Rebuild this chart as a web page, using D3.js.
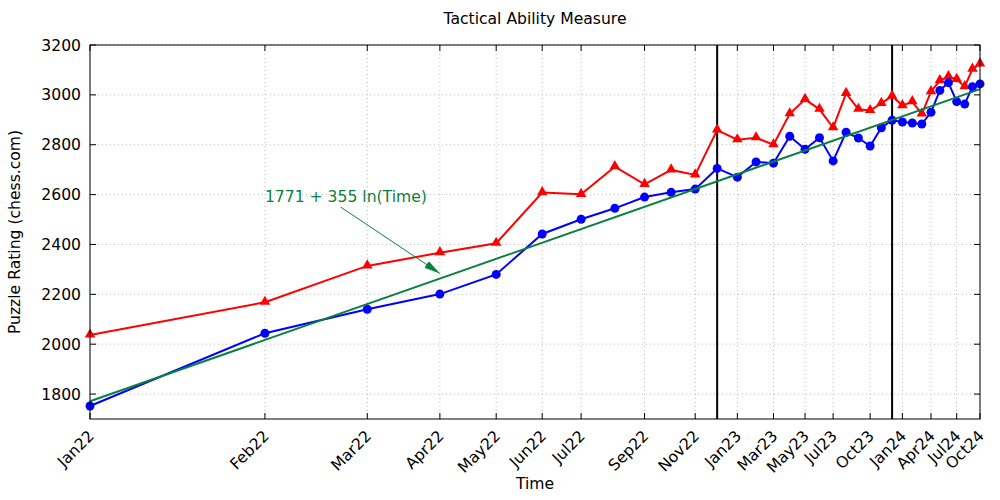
<!DOCTYPE html>
<html>
<head>
<meta charset="utf-8">
<script src="https://cdn.jsdelivr.net/npm/d3@7"></script>
<style>
  body { margin: 0; background: #fff; }
  text { font-family: "DejaVu Sans", sans-serif; }
</style>
</head>
<body>
<div id="chart"></div>
<script>
// months since Dec21 (Jan22 = 1)
var months = [1,2,3,4,5,6,7,8,9,10,11,12,13,14,15,16,17,18,19,20,21,22,23,24,25,26,27,28,29,30,31,32,33,34];
var blue = [1752,2044,2140,2201,2280,2442,2501,2545,2590,2609,2622,2705,2670,2731,2726,2834,2782,2828,2735,2850,2827,2795,2868,2898,2891,2887,2883,2930,3018,3049,2973,2963,3033,3044];
var red = [2037,2168,2314,2367,2405,2608,2601,2712,2641,2699,2679,2859,2820,2828,2800,2924,2982,2942,2868,3006,2942,2937,2966,2995,2957,2973,2923,3013,3057,3073,3062,3033,3103,3124];

var tickMonths = [1,2,3,4,5,6,7,9,11,13,15,17,19,22,25,28,31,34];
var tickLabels = ["Jan22","Feb22","Mar22","Apr22","May22","Jun22","Jul22","Sep22","Nov22","Jan23","Mar23","May23","Jul23","Oct23","Jan24","Apr24","Jul24","Oct24"];
var yTicks = [1800,2000,2200,2400,2600,2800,3000,3200];

var vLines = [12, 24];
var fitA = 1771, fitB = 355;
var fitRange = [1, 34];
var note = {text: "1771 + 355 ln(Time)", t: 2, v: 2594, arrowFrom: [2.7, 2550], arrowTo: [4, 2284]};

var width = 1000, height = 500;
var margin = {top: 45, right: 20, bottom: 81, left: 90};
var fs = "15.6px";
var green = "#0a8040";

var svg = d3.select("#chart").append("svg")
    .attr("width", width)
    .attr("height", height);

var x = d3.scaleLog().domain([1, 34]).range([margin.left, width - margin.right]);
var y = d3.scaleLinear().domain([1700, 3200]).range([height - margin.bottom, margin.top]);

var x0 = margin.left, x1 = width - margin.right, y0 = height - margin.bottom, y1 = margin.top;

// grid
svg.append("g").selectAll("line").data(tickMonths).enter().append("line")
    .attr("x1", d => x(d)).attr("x2", d => x(d))
    .attr("y1", y0).attr("y2", y1)
    .attr("stroke", "#bbb").attr("stroke-dasharray", "1,3");
svg.append("g").selectAll("line").data(yTicks).enter().append("line")
    .attr("x1", x0).attr("x2", x1)
    .attr("y1", d => y(d)).attr("y2", d => y(d))
    .attr("stroke", "#bbb").attr("stroke-dasharray", "1,3");

// ticks pointing inward on all four sides
var tk = 6;
var ticks = svg.append("g").attr("stroke", "black").attr("stroke-width", 1);
tickMonths.forEach(function(d) {
  ticks.append("line").attr("x1", x(d)).attr("x2", x(d)).attr("y1", y0).attr("y2", y0 - tk);
  ticks.append("line").attr("x1", x(d)).attr("x2", x(d)).attr("y1", y1).attr("y2", y1 + tk);
});
yTicks.forEach(function(d) {
  ticks.append("line").attr("x1", x0).attr("x2", x0 + tk).attr("y1", y(d)).attr("y2", y(d));
  ticks.append("line").attr("x1", x1).attr("x2", x1 - tk).attr("y1", y(d)).attr("y2", y(d));
});

// tick labels
svg.append("g").selectAll("text").data(tickMonths).enter().append("text")
    .attr("transform", d => "translate(" + (x(d) + 5) + "," + (y0 + 18) + ") rotate(-45)")
    .attr("text-anchor", "end")
    .style("font-size", fs)
    .text((d, i) => tickLabels[i]);
svg.append("g").selectAll("text").data(yTicks).enter().append("text")
    .attr("x", x0 - 9).attr("y", d => y(d))
    .attr("dy", "0.36em")
    .attr("text-anchor", "end")
    .style("font-size", fs)
    .text(d => d);

// vertical markers
svg.append("g").selectAll("line").data(vLines).enter().append("line")
    .attr("x1", d => x(d)).attr("x2", d => x(d))
    .attr("y1", y0).attr("y2", y1)
    .attr("stroke", "black").attr("stroke-width", 2);

var line = d3.line().x(d => x(d[0])).y(d => y(d[1]));
var redPts = months.map((m, i) => [m, red[i]]);
var bluePts = months.map((m, i) => [m, blue[i]]);

svg.append("path").attr("d", line(redPts))
    .attr("fill", "none").attr("stroke", "red").attr("stroke-width", 2);
svg.append("g").selectAll("path").data(redPts).enter().append("path")
    .attr("d", d3.symbol().type(d3.symbolTriangle).size(48))
    .attr("transform", d => "translate(" + x(d[0]) + "," + (y(d[1]) - 0.5) + ")")
    .attr("fill", "red");

svg.append("path").attr("d", line(bluePts))
    .attr("fill", "none").attr("stroke", "blue").attr("stroke-width", 2);
svg.append("g").selectAll("circle").data(bluePts).enter().append("circle")
    .attr("cx", d => x(d[0])).attr("cy", d => y(d[1]))
    .attr("r", 4.5)
    .attr("fill", "blue");

// fit line (straight on a log axis)
svg.append("path")
    .attr("d", line(fitRange.map(t => [t, fitA + fitB * Math.log(t)])))
    .attr("fill", "none").attr("stroke", green).attr("stroke-width", 2);

// annotation
svg.append("defs").append("marker")
    .attr("id", "head").attr("viewBox", "0 0 16 8")
    .attr("refX", 16).attr("refY", 4)
    .attr("markerWidth", 16).attr("markerHeight", 8)
    .attr("markerUnits", "userSpaceOnUse")
    .attr("orient", "auto")
  .append("path").attr("d", "M0,0L16,4L0,8Z").attr("fill", green);
svg.append("line")
    .attr("x1", x(note.arrowFrom[0])).attr("y1", y(note.arrowFrom[1]))
    .attr("x2", x(note.arrowTo[0])).attr("y2", y(note.arrowTo[1]))
    .attr("stroke", green).attr("stroke-width", 1)
    .attr("marker-end", "url(#head)");
svg.append("text")
    .attr("x", x(note.t)).attr("y", y(note.v))
    .attr("dy", "0.36em")
    .style("font-size", fs)
    .attr("fill", green)
    .text(note.text);

// frame
svg.append("rect")
    .attr("x", x0).attr("y", y1)
    .attr("width", x1 - x0).attr("height", y0 - y1)
    .attr("fill", "none").attr("stroke", "black").attr("stroke-width", 1);

// titles
svg.append("text").attr("x", (x0 + x1) / 2).attr("y", 24)
    .attr("text-anchor", "middle").style("font-size", fs)
    .text("Tactical Ability Measure");
svg.append("text").attr("x", (x0 + x1) / 2).attr("y", 489)
    .attr("text-anchor", "middle").style("font-size", fs)
    .text("Time");
svg.append("text")
    .attr("transform", "translate(20," + ((y0 + y1) / 2) + ") rotate(-90)")
    .attr("text-anchor", "middle").style("font-size", fs)
    .text("Puzzle Rating (chess.com)");
</script>
</body>
</html>
